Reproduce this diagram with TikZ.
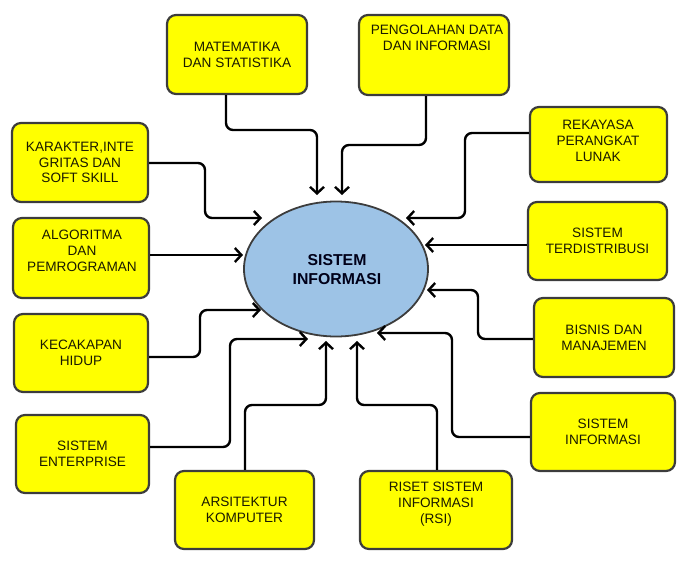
\documentclass[tikz,border=0pt]{standalone}
\usepackage{fontspec}
\setmainfont{Liberation Sans}
\usetikzlibrary{arrows.meta,shapes.geometric}
\definecolor{boxyellow}{HTML}{FFFF00}
\definecolor{boxborder}{HTML}{3C3C3C}
\definecolor{ellblue}{HTML}{9DC3E6}
\definecolor{txtdark}{HTML}{1A1A00}
\begin{document}
\begin{tikzpicture}[x=1pt,y=-1pt,
  box/.style={draw=boxborder, line width=2.2pt, fill=boxyellow, rounded corners=9pt,
    align=center, inner sep=0pt, text=txtdark, font=\fontsize{13.6}{15.8}\selectfont},
  txt/.style={align=center, inner sep=0pt, text=txtdark, font=\fontsize{13.6}{15.8}\selectfont},
  conn/.style={line width=2.4pt, rounded corners=7pt, -{Straight Barb[length=6.5pt,width=14pt]}},
]
\useasboundingbox (0,0) rectangle (692,567);
% helper: box from corners
\newcommand{\mybox}[6]{%
  \node[box, minimum width={#4-#2}, minimum height={#5-#3}] (#1) at ({(#2+#4)/2},{(#3+#5)/2}) {#6};}
\mybox{mat}{167}{15}{307}{94}{MATEMATIKA\\DAN STATISTIKA}
\mybox{peng}{359}{15}{509}{95}{}
\node[txt] (pengt) at (437,38) {PENGOLAHAN DATA\\DAN INFORMASI};
\mybox{kar}{12}{123}{148}{202}{KARAKTER,INTE\\GRITAS DAN\\SOFT SKILL}
\mybox{alg}{13}{218}{149}{298}{}
\node[txt] (algt) at (82,251) {ALGORITMA\\DAN\\PEMROGRAMAN};
\mybox{kec}{14}{314}{148}{392}{KECAKAPAN\\HIDUP}
\mybox{ent}{16}{415}{149}{493}{SISTEM\\ENTERPRISE}
\mybox{ars}{175}{471}{314}{549}{ARSITEKTUR\\KOMPUTER}
\mybox{ris}{360}{471}{512}{549}{}
\node[txt] (rist) at (436,504) {RISET SISTEM\\INFORMASI\\(RSI)};
\mybox{sir}{531}{393}{675}{471}{SISTEM\\INFORMASI}
\mybox{bis}{534}{298}{674}{377}{BISNIS DAN\\MANAJEMEN}
\mybox{terd}{528}{202}{667}{280}{SISTEM\\TERDISTRIBUSI}
\mybox{rek}{530}{107}{667}{182}{}
\node[txt] (rekt) at (598,141) {REKAYASA\\PERANGKAT\\LUNAK};

\node[ellipse, draw=boxborder, line width=1.8pt, fill=ellblue, minimum width=184pt,
  minimum height=135pt, inner sep=0pt] (e) at (336,269) {};
\node[align=center, inner sep=0pt, font=\bfseries\fontsize{15.8}{19}\selectfont, text=black!90!blue]
  (et) at (337,270) {SISTEM\\INFORMASI};

% arrow tips near the ellipse
\coordinate (t1) at (317,195);
\coordinate (t2) at (342,195);
\coordinate (t3) at (262,218);
\coordinate (t4) at (243,255);
\coordinate (t5) at (261,310);
\coordinate (t6) at (308,339);
\coordinate (t7) at (326,341);
\coordinate (t8) at (357,341);
\coordinate (t9) at (377,333);
\coordinate (t10) at (427,290);
\coordinate (t11) at (425,245);
\coordinate (t12) at (406,218);

\draw[conn] (mat.south -| 226,0) -- (226,130) -| (t1);
\draw[conn] (peng.south -| 426,0) -- (426,145) -| (t2);
\draw[conn] (kar.east |- 0,163) -- (205,163) |- (t3);
\draw[conn] (alg.east |- t4) -- (t4);
\draw[conn] (kec.east |- 0,357) -- (200,357) |- (t5);
\draw[conn] (ent.east |- 0,447) -- (230,447) |- (t6);
\draw[conn] (ars.north -| 245,0) -- (245,405) -| (t7);
\draw[conn] (ris.north -| 437,0) -- (437,405) -| (t8);
\draw[conn] (sir.west |- 0,437) -- (452,437) |- (t9);
\draw[conn] (bis.west |- 0,339) -- (478,339) |- (t10);
\draw[conn] (terd.west |- t11) -- (t11);
\draw[conn] (rek.west |- 0,133) -- (465,133) |- (t12);
\end{tikzpicture}
\end{document}
